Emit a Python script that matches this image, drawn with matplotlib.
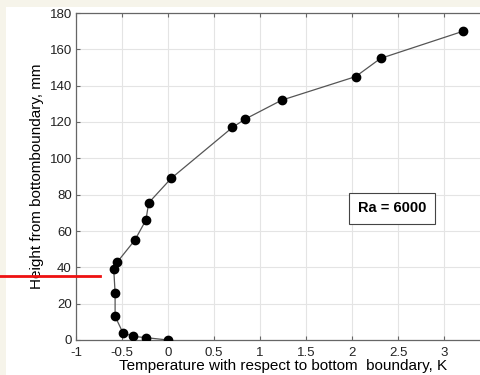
import matplotlib.pyplot as plt
from matplotlib.lines import Line2D
from matplotlib.patches import Rectangle

plt.rcParams['font.family'] = ['Liberation Sans', 'DejaVu Sans']

# Temperature relative to bottom boundary (K) and height (mm)
temp = [0.0, -0.24, -0.38, -0.49, -0.575, -0.575, -0.59, -0.55, -0.36, -0.24, -0.21,
        0.035, 0.70, 0.835, 1.235, 2.04, 2.31, 3.21]
height = [0, 1.3, 2.0, 4.0, 13, 26, 39, 43, 55, 66, 75.5,
          89, 117, 121.5, 132, 145, 155, 170]

xticks = [-1, -0.5, 0, 0.5, 1, 1.5, 2, 2.5, 3, 3.5]
xticklabels = ['-1', '-0.5', '0', '0.5', '1', '1.5', '2', '2.5', '3', '']
yticks = list(range(0, 181, 20))

W, H = 481, 375
fig = plt.figure(figsize=(W / 100, H / 100), dpi=100, facecolor='#f6f4ea')
# white page area
fig.patches.append(Rectangle((6 / W, 0), 1, 1 - 7 / H, transform=fig.transFigure,
                             facecolor='white', edgecolor='none', zorder=-1))

ax = fig.add_axes([76 / W, 1 - 340 / H, (490 - 76) / W, (340 - 13) / H])
ax.set_facecolor('white')
ax.plot(temp, height, '-', color='#555555', lw=0.9, marker='o', ms=6,
        mfc='black', mec='black', zorder=3)

ax.set_xlim(-1, 3.5)
ax.set_ylim(0, 180)
ax.set_xticks(xticks)
ax.set_xticklabels(xticklabels)
ax.set_yticks(yticks)
ax.grid(True, color='#e4e4e4', lw=0.8)
ax.tick_params(direction='in', length=3, labelsize=9.5, colors='#666666',
               labelcolor='#222222', top=True, right=True, pad=3)
ax.tick_params(axis='x', pad=5)
for s in ax.spines.values():
    s.set_color('#666666')
    s.set_linewidth(0.9)

ax.set_xlabel('Temperature with respect to bottom  boundary, K', fontsize=11, labelpad=0)
ax.set_ylabel('Height from bottomboundary, mm', fontsize=11, labelpad=4)

ax.text(2.435, 72.5, 'Ra = 6000', fontsize=10.5, fontweight='bold', ha='center', va='center',
        bbox=dict(boxstyle='square,pad=0.6', facecolor='white', edgecolor='#444444', lw=0.8))

# red marker line at ~35 mm
fig.add_artist(Line2D([0, 100 / W], [1 - 276 / H, 1 - 276 / H], transform=fig.transFigure,
                      color='#ee1111', lw=2))

fig.savefig('out.png', dpi=100, facecolor=fig.get_facecolor())
